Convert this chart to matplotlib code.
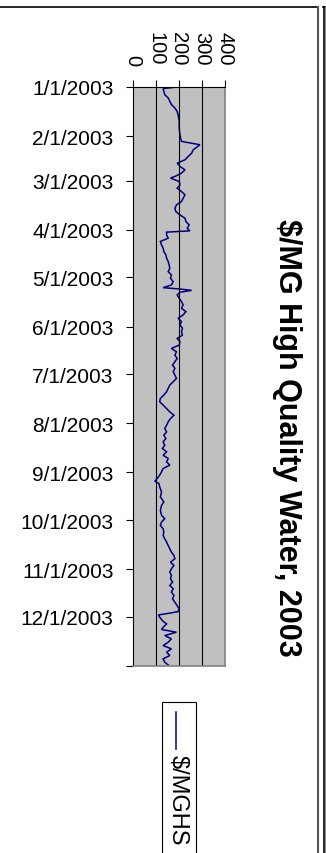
import matplotlib
matplotlib.use("Agg")
import matplotlib.pyplot as plt
import matplotlib.dates as mdates
from matplotlib.lines import Line2D
from matplotlib.patches import Rectangle
import numpy as np
import pandas as pd

plt.rcParams['font.family'] = ['Liberation Sans', 'DejaVu Sans']

# Daily price of high quality water in 2003 ($/MG), by day offset from Jan 1
day_offset = [
    0, 1, 4.8, 6.9, 9.0, 11.1, 13.2, 15.4, 17.5, 21.7, 25.9, 30.1, 32.2, 34.3,
    36.4, 39.6, 41.7, 43.8, 45.9, 48.0, 50.1, 52.2, 54.3, 56.4, 57.4, 59.6,
    61.7, 63.8, 65.9, 68.0, 70.1, 72.2, 74.3, 76.4, 78.5, 80.6, 82.7, 84.8,
    86.9, 89.0, 90.7, 91.5, 93.2, 95.3, 97.4, 99.5, 101.6, 103.7, 105.8,
    107.9, 110.0, 112.1, 114.3, 116.4, 118.5, 120.6, 122.7, 124.8, 126.5,
    127.3, 128.2, 129.4, 131.1, 133.2, 135.3, 137.4, 139.5, 141.6, 143.7,
    145.8, 147.9, 150.0, 152.1, 154.3, 156.4, 158.5, 160.6, 162.7, 164.8,
    166.9, 169.0, 171.1, 173.2, 175.3, 177.4, 179.5, 181.6, 183.7, 185.8,
    187.9, 190.0, 192.1, 194.2, 196.3, 198.4, 200.5, 202.7, 204.8, 206.9,
    209.0, 211.1, 213.2, 215.3, 217.4, 219.5, 221.6, 223.7, 225.8, 227.9,
    230.0, 232.1, 234.2, 236.3, 238.4, 240.5, 242.6, 244.7, 246.8, 248.5,
    250.0, 252.1, 255.3, 258.4, 261.6, 263.7, 266.9, 270.0, 272.1, 274.3,
    276.4, 278.5, 280.6, 282.7, 284.8, 286.9, 289.0, 291.1, 293.2, 295.3,
    297.4, 299.5, 301.6, 303.7, 305.8, 307.9, 310.0, 312.1, 314.2, 316.3,
    318.4, 320.5, 322.7, 324.8, 326.9, 329.0, 330.7, 331.5, 332.8, 334.2,
    336.4, 338.5, 340.6, 342.0, 343.7, 345.8, 347.9, 350.0, 352.1, 354.2,
    356.3, 358.4, 360.5, 362.6, 364.3,
]
price = [
    193, 131, 138, 153, 160, 167, 182, 192, 196, 201, 201, 204, 207, 211,
    291, 262, 255, 240, 226, 192, 204, 226, 211, 182, 163, 201,
    204, 192, 211, 226, 218, 211, 189, 182, 186, 204, 226, 230,
    244, 236, 247, 146, 146, 153, 119, 124, 131, 134, 143,
    146, 153, 157, 160, 153, 167, 163, 175, 167, 131,
    201, 255, 204, 192, 201, 211, 218, 211, 230, 218,
    196, 211, 204, 215, 211, 215, 192, 204, 201, 167,
    189, 182, 192, 182, 172, 182, 175, 182, 189, 175,
    160, 153, 146, 134, 119, 116, 131, 146, 160, 178,
    163, 153, 146, 138, 146, 134, 143, 131, 138, 128,
    146, 131, 153, 146, 160, 131, 124, 116, 105, 95,
    113, 116, 124, 119, 134, 124, 119, 124, 138, 124,
    119, 131, 134, 131, 138, 146, 153, 160, 167, 178,
    182, 163, 178, 167, 160, 167, 163, 172, 160, 175,
    167, 178, 172, 182, 192, 201, 196, 167, 111, 116,
    128, 146, 131, 124, 189, 138, 167, 153, 131, 167,
    146, 160, 131, 138, 153,
]

series_name = "$/MGHS"
title_text = "$/MG High Quality Water, 2003"
value_ticks = [0, 100, 200, 300, 400]
month_labels = ["1/1/2003", "2/1/2003", "3/1/2003", "4/1/2003", "5/1/2003",
                "6/1/2003", "7/1/2003", "8/1/2003", "9/1/2003", "10/1/2003",
                "11/1/2003", "12/1/2003", ""]

line_color = "#000080"

W, H = 326, 854
fig = plt.figure(figsize=(W / 100, H / 100), dpi=100)


def fx(px):
    return px / W


def fy(py):
    return 1 - py / H


start = pd.Timestamp("2003-01-01")
dates = start + pd.to_timedelta(np.array(day_offset), unit="D")
month_starts = pd.date_range("2003-01-01", "2004-01-01", freq="MS")

ax = fig.add_axes([fx(133), fy(667), fx(225) - fx(133), fy(88) - fy(667)])
ax.set_facecolor("#C0C0C0")
ax.plot(price, mdates.date2num(dates), color=line_color, lw=1.1,
        solid_joinstyle="miter")

ax.set_xlim(0, 400)
ax.set_ylim(mdates.date2num(month_starts[-1]), mdates.date2num(month_starts[0]))

ax.set_xticks(value_ticks)
ax.set_xticklabels([str(v) for v in value_ticks])
ax.xaxis.set_ticks_position("top")
ax.tick_params(axis="x", top=True, bottom=False, labeltop=True,
               labelbottom=False, labelrotation=-90, length=5, width=0.8,
               pad=11, labelsize=14.5)
for lbl in ax.get_xticklabels():
    lbl.set_ha("center")
    lbl.set_va("bottom")

ax.set_yticks(mdates.date2num(month_starts))
ax.set_yticklabels(month_labels)
ax.tick_params(axis="y", left=True, right=False, length=5, width=0.8,
               pad=9, labelsize=15)

for v in value_ticks[1:-1]:
    ax.axvline(v, color="black", lw=0.8)

for side in ("top", "left"):
    ax.spines[side].set_color("black")
    ax.spines[side].set_linewidth(0.8)
for side in ("right", "bottom"):
    ax.spines[side].set_color("#808080")
    ax.spines[side].set_linewidth(1.2)

# Chart title, running down the right side
fig.text(fx(287), fy(438), title_text, rotation=-90, ha="center",
         va="center", fontsize=22, fontweight="bold")

# Legend box with a vertical line sample
fig.patches.append(Rectangle((fx(162), fy(870)), fx(196) - fx(162),
                             fy(703) - fy(870), transform=fig.transFigure,
                             facecolor="white", edgecolor="black", lw=0.8))
fig.lines.append(Line2D([fx(176), fx(176)], [fy(713), fy(750)],
                        transform=fig.transFigure, color=line_color, lw=1.1))
fig.text(fx(178), fy(755), series_name, rotation=-90, ha="center", va="top",
         fontsize=17)

# Chart frame and the neighbouring frame edge
frame = dict(transform=fig.transFigure, color="black", lw=1.2)
fig.lines.append(Line2D([0, fx(318)], [fy(8), fy(8)], **frame))
fig.lines.append(Line2D([fx(318), fx(318)], [fy(8), 0], color="#555555",
                        lw=1.5, transform=fig.transFigure))
fig.lines.append(Line2D([fx(323), 1], [fy(8), fy(8)], **frame))
fig.lines.append(Line2D([fx(323.5), fx(323.5)], [fy(8), 0], **frame))
fig.lines.append(Line2D([fx(325.5), fx(325.5)], [fy(8), 0], color="#777777",
                        lw=1.2, transform=fig.transFigure))

fig.savefig("out.png", dpi=100)
